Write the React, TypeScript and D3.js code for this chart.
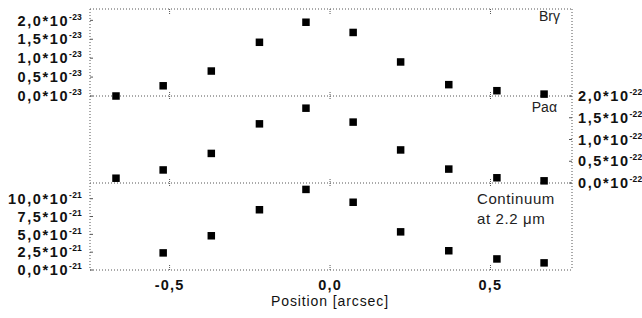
import React from 'react';
import * as d3 from 'd3';

// Positions along the slit [arcsec]
const positions = [-0.667, -0.52, -0.37, -0.22, -0.075, 0.072, 0.22, 0.37, 0.52, 0.667];
const contPositions = [-0.52, -0.37, -0.22, -0.075, 0.072, 0.22, 0.37, 0.52, 0.667];

// Fluxes, in units of the axis exponent
const brGamma = [0.0, 0.27, 0.66, 1.42, 1.95, 1.68, 0.9, 0.3, 0.14, 0.05]; // 1e-23
const paAlpha = [0.11, 0.3, 0.68, 1.36, 1.72, 1.4, 0.76, 0.32, 0.12, 0.05]; // 1e-22
const continuum = [2.4, 4.8, 8.45, 11.3, 9.5, 5.35, 2.7, 1.55, 1.0]; // 1e-21

const brTicks = [0, 0.5, 1, 1.5, 2];
const paTicks = [0, 0.5, 1, 1.5, 2];
const contTicks = [0, 2.5, 5, 7.5, 10];
const xTicks = [-0.5, 0, 0.5];

const W = 642;
const H = 318;
const left = 90;
const right = 572;
const top = 9;
const sep1 = 96;
const sep2 = 183;
const bottom = 270;

// comma decimals, plain hyphen for the minus sign
const fmt = (v: number) => d3.format('.1f')(v).replace('.', ',').replace('\u2212', '-');

const dotted = { stroke: '#555', strokeWidth: 1, strokeDasharray: '1,2' };
const labelFont = { fontFamily: 'Liberation Sans, Arial, sans-serif', fontWeight: 700 as const };

const SciLabel: React.FC<{ x: number; y: number; v: number; exp: string; anchor: 'start' | 'end' }> = ({ x, y, v, exp, anchor }) => (
  <text x={x} y={y} dy="0.36em" textAnchor={anchor} fontSize={14.5} letterSpacing={1.6} style={labelFont} fill="#111">
    <tspan>{fmt(v)}*10</tspan>
    <tspan dy={-6} fontSize={8.5} letterSpacing={0.2}>{exp}</tspan>
  </text>
);

const App: React.FC = () => {
  const x = d3.scaleLinear().domain([-0.748, 0.754]).range([left, right]);
  const yBr = d3.scaleLinear().domain([0, 2.3]).range([sep1, top]);
  const yPa = d3.scaleLinear().domain([0, 2.0]).range([sep2, sep1]);
  const yCont = d3.scaleLinear().domain([0, 12.2]).range([bottom, sep2]);

  const m = 7.5; // marker size

  return (
    <svg width={W} height={H} style={{ position: 'absolute', left: 0, top: 0, background: '#fff' }}>
      {/* frame and panel separators */}
      <line x1={left} x2={right} y1={top} y2={top} {...dotted} />
      <line x1={left} x2={right} y1={sep1} y2={sep1} {...dotted} />
      <line x1={left} x2={right} y1={sep2} y2={sep2} {...dotted} />
      <line x1={left} x2={right} y1={bottom} y2={bottom} {...dotted} />
      <line x1={left} x2={left} y1={top} y2={bottom} {...dotted} />
      <line x1={right} x2={right} y1={top} y2={bottom} {...dotted} />

      {/* x ticks on every panel boundary */}
      {xTicks.map((t) => (
        <g key={t} stroke="#555" strokeWidth={1} strokeDasharray="1,1">
          <line x1={x(t)} x2={x(t)} y1={top} y2={top + 5} />
          <line x1={x(t)} x2={x(t)} y1={sep1 - 4} y2={sep1 + 4} />
          <line x1={x(t)} x2={x(t)} y1={sep2 - 4} y2={sep2 + 4} />
          <line x1={x(t)} x2={x(t)} y1={bottom - 5} y2={bottom} />
        </g>
      ))}

      {/* y ticks */}
      {brTicks.map((t) => (
        <line key={'b' + t} x1={left} x2={left + 3} y1={yBr(t)} y2={yBr(t)} stroke="#555" />
      ))}
      {paTicks.map((t) => (
        <line key={'p' + t} x1={right - 3} x2={right} y1={yPa(t)} y2={yPa(t)} stroke="#555" />
      ))}
      {contTicks.map((t) => (
        <line key={'c' + t} x1={left} x2={left + 3} y1={yCont(t)} y2={yCont(t)} stroke="#555" />
      ))}

      {/* y tick labels */}
      {brTicks.map((t) => (
        <SciLabel key={'bl' + t} x={82} y={yBr(t)} v={t} exp="-23" anchor="end" />
      ))}
      {paTicks.map((t) => (
        <SciLabel key={'pl' + t} x={578} y={yPa(t)} v={t} exp="-22" anchor="start" />
      ))}
      {contTicks.map((t) => (
        <SciLabel key={'cl' + t} x={82} y={yCont(t)} v={t} exp="-21" anchor="end" />
      ))}

      {/* x tick labels and title */}
      {xTicks.map((t) => (
        <text key={'xl' + t} x={x(t)} y={290} textAnchor="middle" fontSize={14.5} letterSpacing={1.2} style={labelFont} fill="#111">
          {fmt(t)}
        </text>
      ))}
      <text x={330} y={306} textAnchor="middle" fontSize={14} letterSpacing={0.9} fontFamily="Liberation Sans, Arial, sans-serif" fill="#111">
        Position [arcsec]
      </text>

      {/* panel labels */}
      <text x={560} y={21} textAnchor="end" fontSize={14} fontFamily="Liberation Sans, Arial, sans-serif" fill="#222">
        Brγ
      </text>
      <text x={557} y={112} textAnchor="end" fontSize={14} fontFamily="Liberation Sans, Arial, sans-serif" fill="#222">
        Paα
      </text>
      <text x={477} y={204} fontSize={15} letterSpacing={0.6} fontFamily="Liberation Sans, Arial, sans-serif" fill="#222">
        Continuum
      </text>
      <text x={477} y={224} fontSize={15} letterSpacing={0.6} fontFamily="Liberation Sans, Arial, sans-serif" fill="#222">
        at 2.2 μm
      </text>

      {/* data */}
      {positions.map((p, i) => (
        <rect key={'bd' + i} x={x(p) - m / 2} y={yBr(brGamma[i]) - m / 2} width={m} height={m} fill="#000" />
      ))}
      {positions.map((p, i) => (
        <rect key={'pd' + i} x={x(p) - m / 2} y={yPa(paAlpha[i]) - m / 2} width={m} height={m} fill="#000" />
      ))}
      {contPositions.map((p, i) => (
        <rect key={'cd' + i} x={x(p) - m / 2} y={yCont(continuum[i]) - m / 2} width={m} height={m} fill="#000" />
      ))}
    </svg>
  );
};

export default App;
